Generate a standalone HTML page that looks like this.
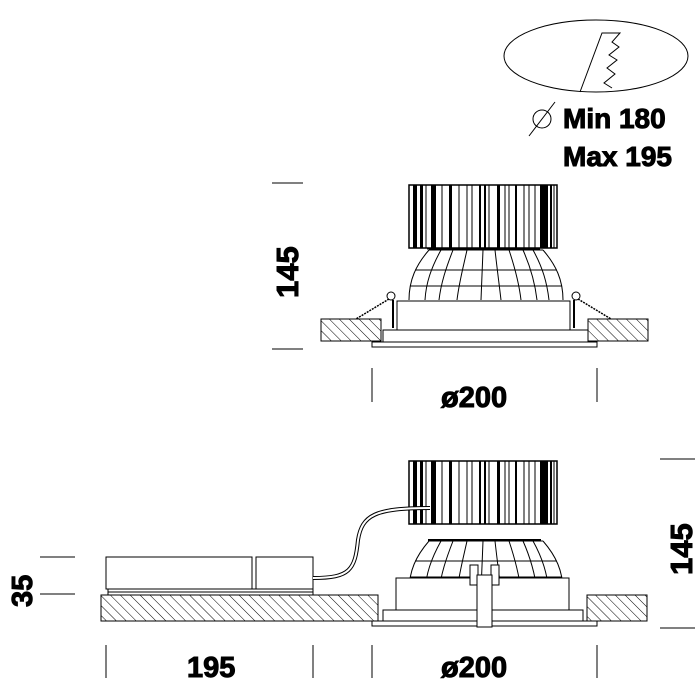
<!DOCTYPE html>
<html><head><meta charset="utf-8"><style>
html,body{margin:0;padding:0;background:#fff;width:700px;height:700px;overflow:hidden}
text{font-family:"Liberation Sans","DejaVu Sans",sans-serif;font-weight:bold;fill:#000}
</style></head><body>
<svg width="700" height="700" viewBox="0 0 700 700" xmlns="http://www.w3.org/2000/svg" fill="none" stroke="#000" stroke-width="1">
<defs>
<pattern id="h" width="7" height="7" patternUnits="userSpaceOnUse" patternTransform="rotate(-45)">
<line x1="0" y1="0" x2="0" y2="7" stroke="#000" stroke-width="1"/></pattern>
<g id="hs">
<rect x="0" y="0" width="148" height="63" fill="#fff" stroke-width="1.5"/>
<g fill="#000" stroke="none">
<rect x="4" y="0" width="4" height="63"/><rect x="11" y="0" width="3" height="63"/>
<rect x="22" y="0" width="5" height="63"/><rect x="40" y="0" width="3" height="63"/>
<rect x="70" y="0" width="2" height="63"/><rect x="75" y="0" width="2" height="63"/>
<rect x="88" y="0" width="3" height="63"/><rect x="106" y="0" width="2" height="63"/>
<rect x="131" y="0" width="8" height="63"/><rect x="141" y="0" width="2" height="63"/>
</g>
<path d="M17 0V63M33 0V63M50 0V63M58 0V63M63 0V63M80 0V63M96 0V63M100 0V63M115 0V63M120 0V63M126 0V63M145 0V63"/>
</g>
<g id="refl">
<path d="M18 0H132 M18 0C5 15 -2 30 -2 50 M132 0C145 15 152 30 152 50"/>
<path d="M30 0C20 18 15 33 14 50 M42 0C35 18 30 33 28 50 M56 0C52 18 48 33 46 50 M72 0L70 50 M84 0C86 18 88 33 90 50 M98 0C104 18 108 33 110 50 M112 0C120 18 124 33 126 50 M122 0C132 18 136 33 138 50"/>
<path d="M4 20H146 M-1 36H151"/>
</g>
</defs>

<ellipse cx="596" cy="56" rx="92" ry="36"/>
<path d="M580 92L602 33H620L612 42L619 47L609 55L617 60L607 68L615 74L604 83L612 88"/>
<circle cx="542" cy="119" r="9"/><line x1="529" y1="136" x2="555" y2="102"/>
<text x="563" y="128" font-size="28">Min 180</text>
<text x="563" y="166" font-size="28">Max 195</text>

<line x1="272" y1="183" x2="303" y2="183"/><line x1="272" y1="349" x2="303" y2="349"/>
<text transform="translate(298,298) rotate(-90)" font-size="31">145</text>
<use href="#hs" x="409" y="185"/>
<line x1="427" y1="249" x2="540" y2="249"/>
<use href="#refl" x="411" y="250"/>
<rect x="397" y="301" width="173" height="29" fill="#fff"/>
<rect x="383" y="330" width="205" height="12" fill="#fff"/>
<rect x="372" y="342" width="225" height="5" fill="#fff"/>
<rect x="321" y="319" width="60" height="22" fill="url(#h)"/>
<rect x="588" y="319" width="60" height="22" fill="url(#h)"/>
<circle cx="391" cy="296" r="4"/><circle cx="576" cy="296" r="4"/>
<path d="M389 299L356 319 M578 299L611 319" stroke-dasharray="2 1" stroke-width="1.5"/>
<path d="M393 300V328 M574 300V328" stroke-width="2"/>
<line x1="372" y1="368" x2="372" y2="402"/><line x1="597" y1="368" x2="597" y2="402"/>
<text x="441" y="407" font-size="29">ø200</text>

<use href="#hs" x="409" y="461"/>
<line x1="428" y1="540" x2="541" y2="540" stroke-width="2"/>
<use href="#refl" x="411" y="541"/>
<rect x="396" y="578" width="173" height="34" fill="#fff"/>
<rect x="383" y="610" width="200" height="11" fill="#fff"/>
<rect x="372" y="621" width="225" height="5" fill="#fff"/>
<rect x="101" y="595" width="277" height="26" fill="url(#h)"/>
<rect x="587" y="595" width="60" height="26" fill="url(#h)"/>
<rect x="106" y="557" width="146" height="32" fill="#fff"/>
<rect x="256" y="557" width="57" height="32" fill="#fff"/>
<rect x="108" y="589" width="205" height="3"/><rect x="108" y="592" width="205" height="3"/>
<path d="M313 578C350 578 355 570 358 540C362 515 375 508 430 508" stroke-width="4"/>
<path d="M313 578C350 578 355 570 358 540C362 515 375 508 430 508" stroke="#fff" stroke-width="2"/>
<rect x="470" y="565" width="8" height="20" fill="#fff"/><rect x="491" y="565" width="8" height="20" fill="#fff"/>
<rect x="477" y="575" width="15" height="52" fill="#fff"/>
<line x1="40" y1="557" x2="75" y2="557"/><line x1="40" y1="594" x2="75" y2="594"/>
<text transform="translate(32,607) rotate(-90)" font-size="29">35</text>
<line x1="660" y1="459" x2="695" y2="459"/><line x1="660" y1="628" x2="695" y2="628"/>
<text transform="translate(692,575) rotate(-90)" font-size="31">145</text>
<path d="M106 645V678 M313 645V678 M372 645V678 M597 645V678"/>
<text x="187" y="677" font-size="29">195</text>
<text x="441" y="677" font-size="29">ø200</text>
</svg>
</body></html>
